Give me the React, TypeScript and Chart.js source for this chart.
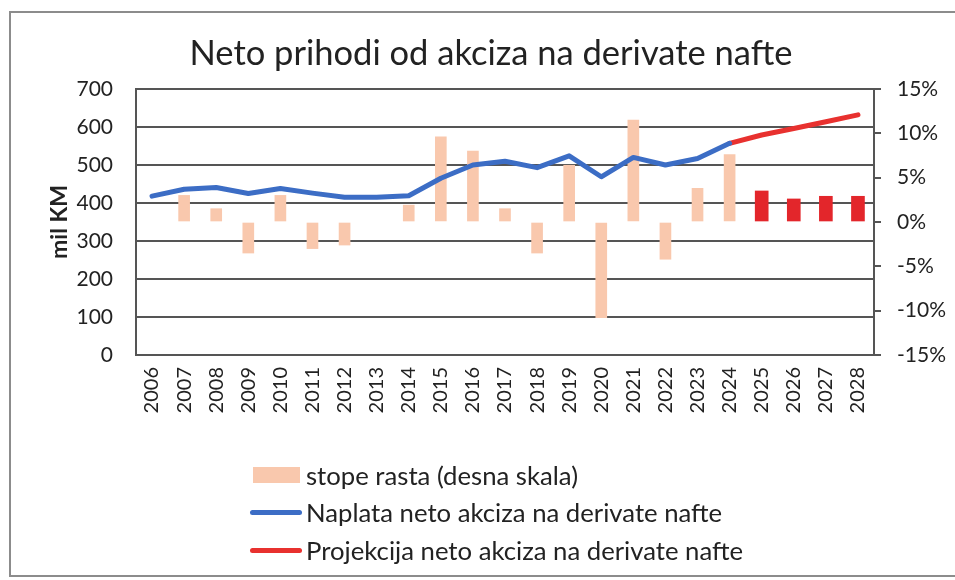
import React, { useEffect, useRef } from "react";
import { Chart, registerables } from "chart.js";

Chart.register(...registerables);

const years = ["2006","2007","2008","2009","2010","2011","2012","2013","2014","2015","2016","2017","2018","2019","2020","2021","2022","2023","2024","2025","2026","2027","2028"];

// Naplata neto akciza (mil KM), 2006-2024
const collected = [418, 436, 441, 425, 438, 426, 415, 415, 419, 465, 500, 510, 493, 524, 469, 520, 500, 517, 557, null, null, null, null];
// Projekcija (mil KM), 2024-2028
const projected = [null, null, null, null, null, null, null, null, null, null, null, null, null, null, null, null, null, null, 557, 579, 596, 614, 632];
// stope rasta (%), historical
const growthHist = [null, 3.0, 1.5, -3.5, 3.0, -3.0, -2.6, null, 1.9, 9.6, 8.0, 1.5, -3.5, 6.4, -10.8, 11.5, -4.2, 3.8, 7.6, null, null, null, null];
// stope rasta (%), projection
const growthProj = [null, null, null, null, null, null, null, null, null, null, null, null, null, null, null, null, null, null, null, 3.5, 2.6, 2.9, 2.9];

const leftTicks = { min: 0, max: 700, step: 100 };
const rightTicks = { min: -15, max: 15, step: 5 };

const FONT = "Lato, 'Open Sans', sans-serif";
const GRID = "#555555";
const PEACH = "#f9c8ad";
const RED_BAR = "#e3262b";
const BLUE = "#3c6dc5";
const RED_LINE = "#e8312f";

export default function App() {
  const ref = useRef<HTMLCanvasElement | null>(null);

  useEffect(() => {
    if (!ref.current) return;
    const chart = new Chart(ref.current, {
      type: "bar",
      data: {
        labels: years,
        datasets: [
          {
            type: "line",
            label: "Naplata neto akciza na derivate nafte",
            data: collected,
            yAxisID: "y",
            borderColor: BLUE,
            borderWidth: 5,
            pointRadius: 0,
            tension: 0,
            borderCapStyle: "round",
            borderJoinStyle: "round",
            spanGaps: false,
            order: 0,
          },
          {
            type: "line",
            label: "Projekcija neto akciza na derivate nafte",
            data: projected,
            yAxisID: "y",
            borderColor: RED_LINE,
            borderWidth: 5,
            pointRadius: 0,
            tension: 0,
            borderCapStyle: "round",
            borderJoinStyle: "round",
            spanGaps: false,
            order: 0,
          },
          {
            type: "bar",
            label: "stope rasta (desna skala)",
            data: growthHist,
            yAxisID: "y1",
            backgroundColor: PEACH,
            barThickness: 11,
            grouped: false,
            order: 1,
          },
          {
            type: "bar",
            label: "stope rasta projekcija",
            data: growthProj,
            yAxisID: "y1",
            backgroundColor: RED_BAR,
            barThickness: 13,
            grouped: false,
            order: 1,
          },
        ],
      },
      options: {
        animation: false,
        responsive: false,
        maintainAspectRatio: false,
        layout: { padding: { top: 89, left: 0, right: 0, bottom: 140 } },
        plugins: {
          legend: { display: false },
          title: { display: false },
          tooltip: { enabled: false },
        },
        scales: {
          x: {
            type: "category",
            offset: true,
            grid: { display: false, drawTicks: false },
            border: { display: true, color: GRID, width: 2 },
            ticks: {
              minRotation: 90,
              maxRotation: 90,
              autoSkip: false,
              padding: 12,
              color: "#222",
              font: { family: FONT, size: 20 },
            },
            afterFit: (s: any) => { s.height = 85; },
          },
          y: {
            position: "left",
            min: leftTicks.min,
            max: leftTicks.max,
            ticks: {
              stepSize: leftTicks.step,
              padding: 23,
              color: "#222",
              font: { family: FONT, size: 21 },
            },
            grid: { color: GRID, lineWidth: 2, drawTicks: false },
            border: { display: true, color: GRID, width: 2 },
            title: {
              display: true,
              text: "mil KM",
              color: "#222",
              font: { family: FONT, size: 23, weight: "bold" },
              padding: { top: 46, bottom: 0 },
            },
            afterFit: (s: any) => { s.width = 136; },
          },
          y1: {
            position: "right",
            min: rightTicks.min,
            max: rightTicks.max,
            ticks: {
              stepSize: rightTicks.step,
              padding: 16,
              color: "#222",
              font: { family: FONT, size: 21 },
              callback: (v: any) => `${Math.round(Number(v))}%`,
            },
            grid: { drawOnChartArea: false, color: GRID, lineWidth: 2, tickLength: 7 },
            border: { display: true, color: GRID, width: 2 },
            afterFit: (s: any) => { s.width = 81; },
          },
        },
      },
    });
    return () => chart.destroy();
  }, []);

  const legendText: React.CSSProperties = {
    position: "absolute",
    left: 306,
    fontFamily: FONT,
    fontSize: 25.7,
    color: "#222",
    lineHeight: "30px",
    whiteSpace: "nowrap",
  };

  return (
    <div style={{ position: "fixed", left: 0, top: 0, width: 955, height: 580, background: "#fff", overflow: "hidden" }}>
      <canvas ref={ref} width={955} height={580} style={{ position: "absolute", left: 0, top: 0, width: 955, height: 580 }} />
      <div style={{ position: "absolute", left: 9, top: 11, width: 960, height: 566, border: "2px solid #8c8c8c", boxSizing: "border-box", pointerEvents: "none" }} />
      <div style={{ position: "absolute", left: 0, width: 982, top: 31, textAlign: "center", fontFamily: FONT, fontSize: 34.5, color: "#222", lineHeight: "42px", whiteSpace: "nowrap" }}>
        Neto prihodi od akciza na derivate nafte
      </div>
      <div style={{ position: "absolute", left: 253, top: 467, width: 47, height: 16, background: PEACH }} />
      <div style={{ ...legendText, top: 460 }}>stope rasta (desna skala)</div>
      <div style={{ position: "absolute", left: 250, top: 510, width: 52, height: 5, borderRadius: 3, background: BLUE }} />
      <div style={{ ...legendText, top: 497 }}>Naplata neto akciza na derivate nafte</div>
      <div style={{ position: "absolute", left: 250, top: 548, width: 52, height: 5, borderRadius: 3, background: RED_LINE }} />
      <div style={{ ...legendText, top: 535 }}>Projekcija neto akciza na derivate nafte</div>
    </div>
  );
}
